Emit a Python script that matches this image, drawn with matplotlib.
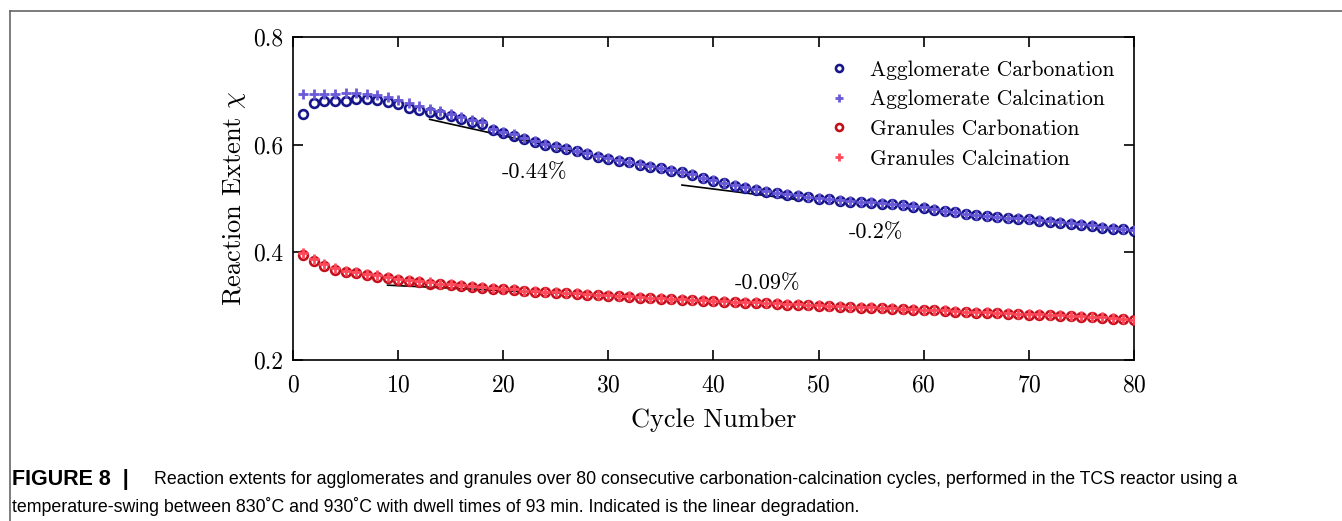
import matplotlib
matplotlib.use("Agg")
import matplotlib.pyplot as plt
from matplotlib.lines import Line2D

plt.rcParams['font.family'] = ['cmr10', 'DejaVu Serif']
plt.rcParams['mathtext.fontset'] = 'cm'
plt.rcParams['axes.formatter.use_mathtext'] = True

cycles = list(range(1, 81))

agg_carb = [0.657, 0.678, 0.681, 0.682, 0.682, 0.684, 0.684, 0.683, 0.679, 0.675,
            0.669, 0.665, 0.661, 0.657, 0.653, 0.648, 0.643, 0.639, 0.627, 0.622,
            0.617, 0.611, 0.605, 0.600, 0.596, 0.592, 0.588, 0.583, 0.578, 0.574,
            0.570, 0.567, 0.563, 0.559, 0.556, 0.552, 0.549, 0.544, 0.538, 0.533,
            0.528, 0.524, 0.520, 0.516, 0.513, 0.510, 0.507, 0.505, 0.502, 0.500,
            0.499, 0.496, 0.494, 0.493, 0.492, 0.490, 0.489, 0.487, 0.485, 0.483,
            0.479, 0.476, 0.474, 0.471, 0.469, 0.467, 0.465, 0.463, 0.462, 0.461,
            0.459, 0.457, 0.455, 0.453, 0.451, 0.449, 0.446, 0.444, 0.443, 0.440]

agg_calc = [0.694, 0.695, 0.695, 0.695, 0.696, 0.696, 0.695, 0.692, 0.688, 0.683,
            0.677, 0.672, 0.667, 0.662, 0.657, 0.651, 0.646, 0.642, 0.630, 0.624,
            0.619, 0.613, 0.607, 0.602, 0.597, 0.593, 0.589, 0.584, 0.579, 0.575,
            0.571, 0.568, 0.564, 0.560, 0.557, 0.553, 0.550, 0.545, 0.539, 0.534,
            0.529, 0.525, 0.521, 0.517, 0.514, 0.511, 0.508, 0.506, 0.503, 0.501,
            0.500, 0.497, 0.495, 0.494, 0.493, 0.491, 0.490, 0.488, 0.486, 0.484,
            0.480, 0.477, 0.475, 0.472, 0.470, 0.468, 0.466, 0.464, 0.463, 0.462,
            0.460, 0.458, 0.456, 0.454, 0.452, 0.450, 0.447, 0.445, 0.444, 0.441]

gran_carb = [0.395, 0.383, 0.375, 0.368, 0.364, 0.361, 0.358, 0.355, 0.352, 0.349,
             0.346, 0.344, 0.342, 0.341, 0.339, 0.337, 0.335, 0.333, 0.332, 0.331,
             0.330, 0.328, 0.327, 0.326, 0.325, 0.324, 0.323, 0.321, 0.320, 0.319,
             0.318, 0.317, 0.316, 0.315, 0.314, 0.313, 0.312, 0.311, 0.310, 0.309,
             0.308, 0.307, 0.306, 0.306, 0.305, 0.304, 0.303, 0.303, 0.302, 0.301,
             0.300, 0.299, 0.298, 0.297, 0.297, 0.296, 0.295, 0.294, 0.293, 0.292,
             0.292, 0.291, 0.290, 0.289, 0.288, 0.288, 0.287, 0.286, 0.285, 0.284,
             0.284, 0.283, 0.282, 0.281, 0.280, 0.279, 0.278, 0.277, 0.276, 0.274]

gran_calc = [0.399, 0.387, 0.378, 0.371, 0.366, 0.363, 0.360, 0.357, 0.354, 0.351,
             0.348, 0.346, 0.344, 0.342, 0.341, 0.339, 0.337, 0.335, 0.333, 0.332,
             0.331, 0.329, 0.328, 0.327, 0.326, 0.325, 0.324, 0.322, 0.321, 0.320,
             0.319, 0.318, 0.317, 0.316, 0.315, 0.314, 0.313, 0.312, 0.311, 0.310,
             0.309, 0.308, 0.307, 0.307, 0.306, 0.305, 0.304, 0.304, 0.303, 0.302,
             0.301, 0.300, 0.299, 0.298, 0.298, 0.297, 0.296, 0.295, 0.294, 0.293,
             0.293, 0.292, 0.291, 0.290, 0.289, 0.289, 0.288, 0.287, 0.286, 0.285,
             0.285, 0.284, 0.283, 0.282, 0.281, 0.280, 0.279, 0.278, 0.277, 0.275]

# linear degradation guides: (x0, x1), (y0, y1), label, label position
fits = [((13, 28), (0.647, 0.582), '-0.44%', (23.0, 0.549)),
        ((37, 48), (0.525, 0.498), '-0.2%', (55.5, 0.438)),
        ((9, 32), (0.339, 0.318), '-0.09%', (45.1, 0.343))]

fig = plt.figure(figsize=(13.42, 5.21), dpi=100)
ax = fig.add_axes([0.2183, 0.309, 0.6267, 0.62])

for (xs, ys, lab, pos) in fits:
    ax.plot(xs, ys, color='black', lw=1.2, zorder=1)
    ax.text(pos[0], pos[1], lab, fontsize=16, ha='center', va='center')

ax.plot(cycles, agg_carb, 'o', mfc='none', mec='#16168a', mew=1.9, ms=6.3,
        label='Agglomerate Carbonation', zorder=2)
ax.plot(cycles, agg_calc, '+', color='#6a5ad8', mew=2.0, ms=7.5,
        label='Agglomerate Calcination', zorder=3)
ax.plot(cycles, gran_carb, 'o', mfc='none', mec='#c4101c', mew=1.9, ms=6.3,
        label='Granules Carbonation', zorder=2)
ax.plot(cycles, gran_calc, '+', color='#ff4a5c', mew=2.0, ms=7.5,
        label='Granules Calcination', zorder=3)

ax.set_xlim(0, 80)
ax.set_ylim(0.2, 0.8)
ax.set_xticks(range(0, 81, 10))
ax.set_yticks([0.2, 0.4, 0.6, 0.8])
ax.set_yticklabels(['0.2', '0.4', '0.6', '0.8'])
ax.tick_params(direction='in', top=True, right=True, length=7, width=1.2,
               labelsize=17)
ax.tick_params(axis='x', pad=10)
ax.tick_params(axis='y', pad=7)
for s in ax.spines.values():
    s.set_linewidth(1.2)
ax.set_xlabel('Cycle Number', fontsize=19, labelpad=9)
ax.set_ylabel(r'Reaction Extent $\chi$', fontsize=19, labelpad=4)

leg = ax.legend(loc='upper right', frameon=False, fontsize=15.5, markerscale=0.8,
                handlelength=1.0, handletextpad=0.95, labelspacing=0.47,
                borderaxespad=0.3, bbox_to_anchor=(0.995, 0.975))

# page frame
fig.add_artist(Line2D([10 / 1342, 1], [1 - 11 / 521, 1 - 11 / 521],
                      color='#666666', lw=1.2, transform=fig.transFigure))
fig.add_artist(Line2D([10 / 1342, 10 / 1342], [0, 1 - 11 / 521],
                      color='#666666', lw=1.2, transform=fig.transFigure))

# caption
cap_font = ['Liberation Sans Narrow', 'Liberation Sans', 'DejaVu Sans']
fig.text(12 / 1342, 1 - 480 / 521, 'FIGURE 8  |', fontsize=15.5, fontweight='bold',
         family=cap_font, va='center')
fig.text(154 / 1342, 1 - 480 / 521,
         'Reaction extents for agglomerates and granules over 80 consecutive '
         'carbonation-calcination cycles, performed in the TCS reactor using a',
         fontsize=12.8, family=cap_font, va='center')
fig.text(12 / 1342, 1 - 506 / 521,
         'temperature-swing between 830\u02daC and 930\u02daC with dwell times of 93 min. '
         'Indicated is the linear degradation.',
         fontsize=12.8, family=cap_font, va='center')

fig.savefig('out.png', dpi=100)
